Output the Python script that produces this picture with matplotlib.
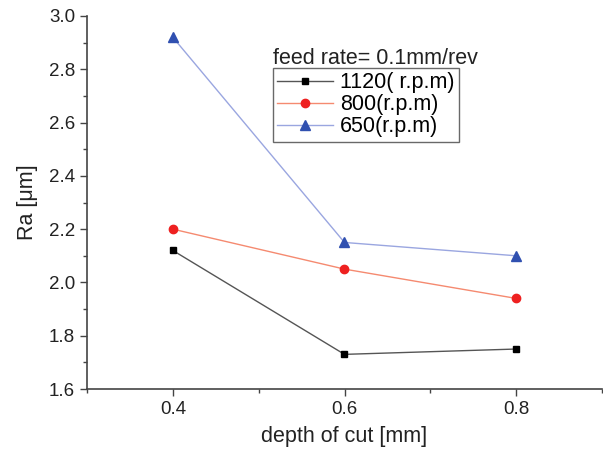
import matplotlib
matplotlib.use('Agg')
import matplotlib.pyplot as plt
from matplotlib.ticker import MultipleLocator

plt.rcParams['font.family'] = ['Liberation Sans', 'DejaVu Sans']

# data
depth = [0.4, 0.6, 0.8]
ra_1120 = [2.12, 1.73, 1.75]
ra_800 = [2.20, 2.05, 1.94]
ra_650 = [2.92, 2.15, 2.10]
labels = ['1120( r.p.m)', '800(r.p.m)', '650(r.p.m)']

fig = plt.figure(figsize=(6.03, 4.54), dpi=100)
ax = fig.add_axes([87 / 603, 65 / 454, 515 / 603, 373 / 454])

ax.plot(depth, ra_1120, color='#555555', lw=1, marker='s', ms=5,
        mfc='black', mec='black', label=labels[0])
ax.plot(depth, ra_800, color='#f58a70', lw=1, marker='o', ms=6,
        mfc='#ee2020', mec='#ee2020', label=labels[1])
ax.plot(depth, ra_650, color='#9aa6e0', lw=1, marker='^', ms=6.5,
        mfc='#3050b0', mec='#3050b0', label=labels[2])

ax.set_xlim(0.3, 0.9)
ax.set_ylim(1.6, 3.0)
ax.xaxis.set_major_locator(MultipleLocator(0.2))
ax.xaxis.set_minor_locator(MultipleLocator(0.1))
ax.yaxis.set_major_locator(MultipleLocator(0.2))
ax.yaxis.set_minor_locator(MultipleLocator(0.1))
ax.xaxis.set_major_formatter(plt.FormatStrFormatter('%.1f'))
ax.yaxis.set_major_formatter(plt.FormatStrFormatter('%.1f'))

# only left and bottom axis lines
ax.spines['top'].set_visible(False)
ax.spines['right'].set_visible(False)
for s in ['left', 'bottom']:
    ax.spines[s].set_color('#444444')
    ax.spines[s].set_linewidth(1.2)
ax.tick_params(which='major', direction='out', length=5, width=1, colors='#444444',
               labelsize=13.5, labelcolor='#222222')
ax.tick_params(which='minor', direction='out', length=3, width=1, colors='#444444')

ax.set_xlabel('depth of cut [mm]', fontsize=15.5, color='#222222', labelpad=6)
ax.set_ylabel('Ra [\u03bcm]', fontsize=15.5, color='#222222', labelpad=8)

fig.text(273 / 603, 1 - 64 / 454, 'feed rate= 0.1mm/rev', fontsize=15.5,
         color='#222222', va='baseline')
leg = ax.legend(loc='upper left', bbox_to_anchor=(273 / 603, 1 - 68 / 454),
                bbox_transform=fig.transFigure, fontsize=15.5, frameon=True,
                fancybox=False, borderpad=0.2, labelspacing=0.05,
                handlelength=2.6, handletextpad=0.3, borderaxespad=0)
leg.get_frame().set_edgecolor('#444444')
leg.get_frame().set_linewidth(1)

fig.savefig('out.png', dpi=100)
